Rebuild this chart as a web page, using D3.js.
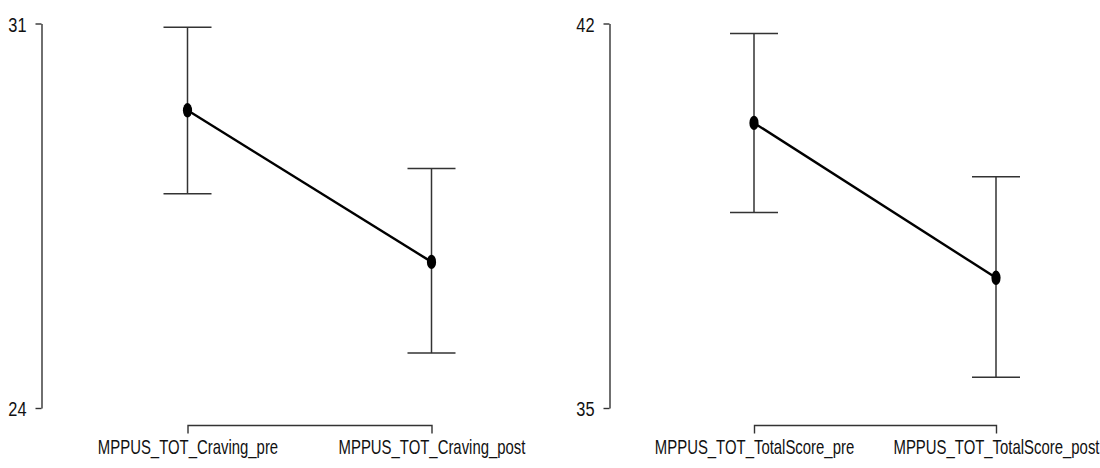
<!DOCTYPE html>
<html>
<head>
<meta charset="utf-8">
<script src="https://cdn.jsdelivr.net/npm/d3@7"></script>
<style>
  html, body { margin: 0; padding: 0; background: #fff; }
  svg { display: block; }
  text { font-family: "Liberation Sans", Arial, sans-serif; fill: #111; }
</style>
</head>
<body>
<svg id="chart" width="1100" height="468"></svg>
<script>
// ---- data ----
const cravingCategories = ["MPPUS_TOT_Craving_pre", "MPPUS_TOT_Craving_post"];
const cravingMeans = [29.42, 26.66];
const cravingLower = [27.90, 25.00];
const cravingUpper = [30.93, 28.36];
const cravingTicks = [24, 31];

const totalCategories = ["MPPUS_TOT_TotalScore_pre", "MPPUS_TOT_TotalScore_post"];
const totalMeans = [40.19, 37.37];
const totalLower = [38.56, 35.56];
const totalUpper = [41.82, 39.21];
const totalTicks = [35, 42];

// ---- layout ----
const svg = d3.select("#chart");
const plotTop = 23.5, plotBottom = 408, bracketY = 425;
const condense = 0.71;   // horizontal squeeze of the text
const fontSize = 21;

const panels = [
  { cats: cravingCategories, means: cravingMeans, lo: cravingLower, hi: cravingUpper, ticks: cravingTicks, axisX: 41.5, x0: 187.5, x1: 431.5 },
  { cats: totalCategories, means: totalMeans, lo: totalLower, hi: totalUpper, ticks: totalTicks, axisX: 609.5, x0: 754, x1: 996 }
];

panels.forEach(p => {
  const y = d3.scaleLinear().domain(d3.extent(p.ticks)).range([plotBottom, plotTop]);
  const x = d3.scalePoint().domain(p.cats).range([p.x0, p.x1]);
  const g = svg.append("g");

  // y axis
  const ya = g.append("g")
    .attr("transform", `translate(${p.axisX},0)`)
    .call(d3.axisLeft(y).tickValues(p.ticks).tickSize(6).tickSizeOuter(0).tickPadding(9).tickFormat(d3.format("d")));
  ya.select(".domain").attr("stroke", "#333").attr("stroke-width", 1.4);
  ya.selectAll(".tick line").attr("stroke", "#333").attr("stroke-width", 1.4);
  ya.selectAll(".tick text")
    .attr("font-size", fontSize)
    .attr("font-family", "Liberation Sans, Arial, sans-serif")
    .attr("fill", "#111")
    .attr("x", -15 / 0.78)
    .attr("dy", "0.36em")
    .attr("transform", `scale(0.78,1)`);

  // x axis bracket
  const xa = g.append("g")
    .attr("transform", `translate(0,${bracketY})`)
    .call(d3.axisBottom(x).tickSize(0).tickSizeOuter(8.5).tickPadding(14));
  xa.select(".domain").attr("stroke", "#333").attr("stroke-width", 1.4);
  xa.selectAll(".tick text")
    .attr("font-size", fontSize)
    .attr("font-family", "Liberation Sans, Arial, sans-serif")
    .attr("fill", "#111")
    .attr("transform", `scale(${condense},1)`);

  const rows = p.cats.map((c, i) => ({ c, m: p.means[i], lo: p.lo[i], hi: p.hi[i] }));

  // error bars
  const eb = g.append("g").attr("stroke", "#333").attr("stroke-width", 1.5).attr("fill", "none");
  eb.selectAll("line.v").data(rows).join("line").attr("class", "v")
    .attr("x1", d => x(d.c)).attr("x2", d => x(d.c))
    .attr("y1", d => y(d.hi)).attr("y2", d => y(d.lo));
  eb.selectAll("line.capHi").data(rows).join("line").attr("class", "capHi")
    .attr("x1", d => x(d.c) - 24).attr("x2", d => x(d.c) + 24)
    .attr("y1", d => y(d.hi)).attr("y2", d => y(d.hi));
  eb.selectAll("line.capLo").data(rows).join("line").attr("class", "capLo")
    .attr("x1", d => x(d.c) - 24).attr("x2", d => x(d.c) + 24)
    .attr("y1", d => y(d.lo)).attr("y2", d => y(d.lo));

  // connecting line
  g.append("path").datum(rows)
    .attr("fill", "none").attr("stroke", "#000").attr("stroke-width", 2.4)
    .attr("d", d3.line().x(d => x(d.c)).y(d => y(d.m)));

  // points
  g.selectAll("ellipse").data(rows).join("ellipse")
    .attr("cx", d => x(d.c)).attr("cy", d => y(d.m))
    .attr("rx", 4.6).attr("ry", 7.2).attr("fill", "#000");
});
</script>
</body>
</html>
